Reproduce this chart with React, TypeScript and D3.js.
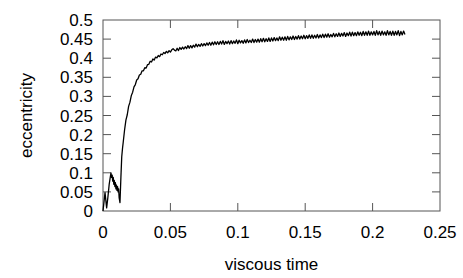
import React from "react";
import * as d3 from "d3";

// early transient (time, eccentricity)
const earlyTime = [0, 0.0015, 0.0027, 0.0036, 0.0046, 0.0059, 0.0064, 0.0068, 0.0072, 0.0076, 0.008, 0.0084, 0.0088, 0.0092, 0.0096, 0.01, 0.0104, 0.0108, 0.0112, 0.0116, 0.012, 0.0126, 0.0133, 0.0139, 0.0145];
const earlyEcc = [0, 0.048, 0.008, 0.035, 0.07, 0.1, 0.088, 0.094, 0.078, 0.088, 0.07, 0.08, 0.064, 0.074, 0.058, 0.068, 0.054, 0.064, 0.05, 0.058, 0.034, 0.022, 0.09, 0.142, 0.165];

// main run sampled every 0.001 starting at t = 0.015
const mainStart = 0.015;
const mainStep = 0.001;
const mainEcc = [
  0.180, 0.212, 0.238, 0.252, 0.274, 0.285, 0.302, 0.311, 0.325, 0.331,
  0.343, 0.346, 0.356, 0.358, 0.367, 0.367, 0.375, 0.374, 0.383, 0.384,
  0.392, 0.390, 0.398, 0.395, 0.403, 0.401, 0.407, 0.404, 0.411, 0.409,
  0.415, 0.412, 0.418, 0.414, 0.420, 0.416, 0.422, 0.425, 0.421, 0.419,
  0.426, 0.420, 0.428, 0.423, 0.429, 0.424, 0.430, 0.425, 0.433, 0.426,
  0.433, 0.427, 0.434, 0.429, 0.437, 0.430, 0.436, 0.431, 0.438, 0.432,
  0.438, 0.433, 0.440, 0.434, 0.441, 0.434, 0.442, 0.435, 0.443, 0.436,
  0.443, 0.436, 0.444, 0.437, 0.446, 0.436, 0.444, 0.438, 0.445, 0.437,
  0.446, 0.438, 0.445, 0.439, 0.448, 0.438, 0.447, 0.440, 0.446, 0.439,
  0.448, 0.440, 0.449, 0.441, 0.447, 0.441, 0.450, 0.441, 0.449, 0.442,
  0.450, 0.442, 0.451, 0.443, 0.452, 0.443, 0.451, 0.444, 0.453, 0.444,
  0.453, 0.445, 0.454, 0.446, 0.453, 0.446, 0.456, 0.447, 0.455, 0.447,
  0.456, 0.447, 0.457, 0.448, 0.456, 0.449, 0.458, 0.449, 0.457, 0.450,
  0.459, 0.450, 0.458, 0.451, 0.460, 0.451, 0.459, 0.452, 0.461, 0.452,
  0.461, 0.452, 0.460, 0.453, 0.462, 0.453, 0.461, 0.454, 0.463, 0.454,
  0.463, 0.455, 0.464, 0.455, 0.462, 0.456, 0.465, 0.456, 0.464, 0.457,
  0.466, 0.457, 0.465, 0.458, 0.467, 0.457, 0.466, 0.459, 0.468, 0.458,
  0.468, 0.459, 0.467, 0.459, 0.469, 0.460, 0.468, 0.459, 0.470, 0.460,
  0.469, 0.460, 0.471, 0.460, 0.469, 0.461, 0.470, 0.460, 0.472, 0.461,
  0.470, 0.460, 0.471, 0.461, 0.469, 0.460, 0.472, 0.461, 0.470, 0.460,
  0.471, 0.460, 0.470, 0.461, 0.472, 0.459, 0.470, 0.461, 0.471, 0.462,
];

const xTicks = [0, 0.05, 0.1, 0.15, 0.2, 0.25];
const yTicks = [0, 0.05, 0.1, 0.15, 0.2, 0.25, 0.3, 0.35, 0.4, 0.45, 0.5];

export default function App() {
  const W = 463, H = 278;
  const L = 103, R = 440, T = 20, B = 211;
  const x = d3.scaleLinear().domain([0, 0.25]).range([L, R]);
  const y = d3.scaleLinear().domain([0, 0.5]).range([B, T]);

  const pts: [number, number][] = earlyTime.map((t, i) => [t, earlyEcc[i]]);
  mainEcc.forEach((e, i) => pts.push([mainStart + i * mainStep, e]));
  const line = d3.line<[number, number]>().x(d => x(d[0])).y(d => y(d[1]));

  const font = "'Liberation Sans', Arial, Helvetica, sans-serif";
  const axisColor = "#555";
  const tl = 8;
  const fs = 17;

  return (
    <svg width={W} height={H} style={{ position: "absolute", left: 0, top: 0, background: "#fff" }}>
      <rect x={0} y={0} width={W} height={H} fill="#fff" />
      {xTicks.slice(1, -1).map(t => (
        <g key={"xt" + t}>
          <line x1={x(t)} x2={x(t)} y1={B} y2={B - tl} stroke={axisColor} />
          <line x1={x(t)} x2={x(t)} y1={T} y2={T + tl} stroke={axisColor} />
        </g>
      ))}
      {yTicks.slice(1, -1).map(t => (
        <g key={"yt" + t}>
          <line x1={L} x2={L + tl} y1={y(t)} y2={y(t)} stroke={axisColor} />
          <line x1={R} x2={R - tl} y1={y(t)} y2={y(t)} stroke={axisColor} />
        </g>
      ))}
      <rect x={L} y={T} width={R - L} height={B - T} fill="none" stroke={axisColor} />
      {xTicks.map(t => (
        <text key={"xl" + t} x={x(t)} y={238} textAnchor="middle" fontFamily={font} fontSize={fs} fill="#000">
          {String(t)}
        </text>
      ))}
      {yTicks.map(t => (
        <text key={"yl" + t} x={93} y={y(t) + 6} textAnchor="end" fontFamily={font} fontSize={fs} fill="#000">
          {String(t)}
        </text>
      ))}
      <text x={(L + R) / 2} y={270} textAnchor="middle" fontFamily={font} fontSize={fs} fill="#000">viscous time</text>
      <text transform={`translate(32,${(T + B) / 2}) rotate(-90)`} textAnchor="middle" fontFamily={font} fontSize={fs} fill="#000">eccentricity</text>
      <path d={line(pts) || ""} fill="none" stroke="#000" strokeWidth={1.3} strokeLinejoin="round" />
    </svg>
  );
}
